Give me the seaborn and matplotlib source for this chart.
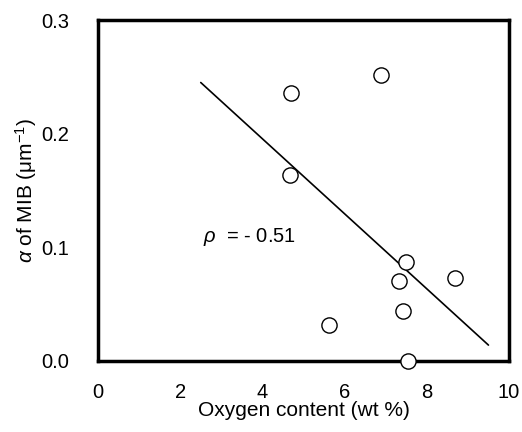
import matplotlib
matplotlib.use("Agg")
import matplotlib.pyplot as plt
import seaborn as sns
import pandas as pd

oxygen = [4.69, 6.88, 4.68, 7.50, 7.33, 8.69, 7.43, 5.63, 7.55]
alpha = [0.236, 0.252, 0.164, 0.087, 0.070, 0.073, 0.044, 0.032, 0.0]
fit_x = [2.5, 9.5]
fit_y = [0.245, 0.014]
xticks = [0, 2, 4, 6, 8, 10]
yticks = [0.0, 0.1, 0.2, 0.3]

sns.set_theme(style="white")
plt.rcParams['font.family'] = ['Liberation Sans', 'DejaVu Sans']
plt.rcParams['mathtext.fontset'] = 'custom'
plt.rcParams['mathtext.it'] = 'Liberation Sans:italic'
plt.rcParams['mathtext.rm'] = 'Liberation Sans'
plt.rcParams['text.color'] = 'black'
plt.rcParams['axes.labelcolor'] = 'black'

fig = plt.figure(figsize=(5.22, 4.32), dpi=100)
ax = fig.add_axes([98/522, 71/432, 411/522, 341/432])

df = pd.DataFrame({"x": oxygen, "y": alpha})
sns.lineplot(x=fit_x, y=fit_y, ax=ax, color="black", linewidth=1.2)
sns.scatterplot(data=df, x="x", y="y", ax=ax, s=120, facecolor="white",
                edgecolor="black", linewidth=1.0, zorder=5, clip_on=False)

ax.set_xlim(0, 10)
ax.set_ylim(0, 0.3)
ax.set_xticks(xticks)
ax.set_yticks(yticks)
ax.set_xticklabels([str(t) for t in xticks])
ax.set_yticklabels([f"{t:.1f}" for t in yticks])
ax.tick_params(direction="in", length=5, width=1, labelsize=14.5, colors="black")
ax.tick_params(axis="x", pad=16)
ax.tick_params(axis="y", pad=21)
for sp in ax.spines.values():
    sp.set_linewidth(2.5)
    sp.set_color("black")
    sp.set_visible(True)

ax.set_xlabel("Oxygen content (wt %)", fontsize=15, labelpad=-1, color="black")
ax.set_ylabel(r"$\alpha$ of MIB (μm$^{-1}$)", fontsize=15, labelpad=1, color="black")
ax.text(2.55, 0.109, r"$\rho$  = - 0.51", fontsize=14.5, va="center", ha="left", color="black")
ax.grid(False)

fig.savefig("out.png", dpi=100)
